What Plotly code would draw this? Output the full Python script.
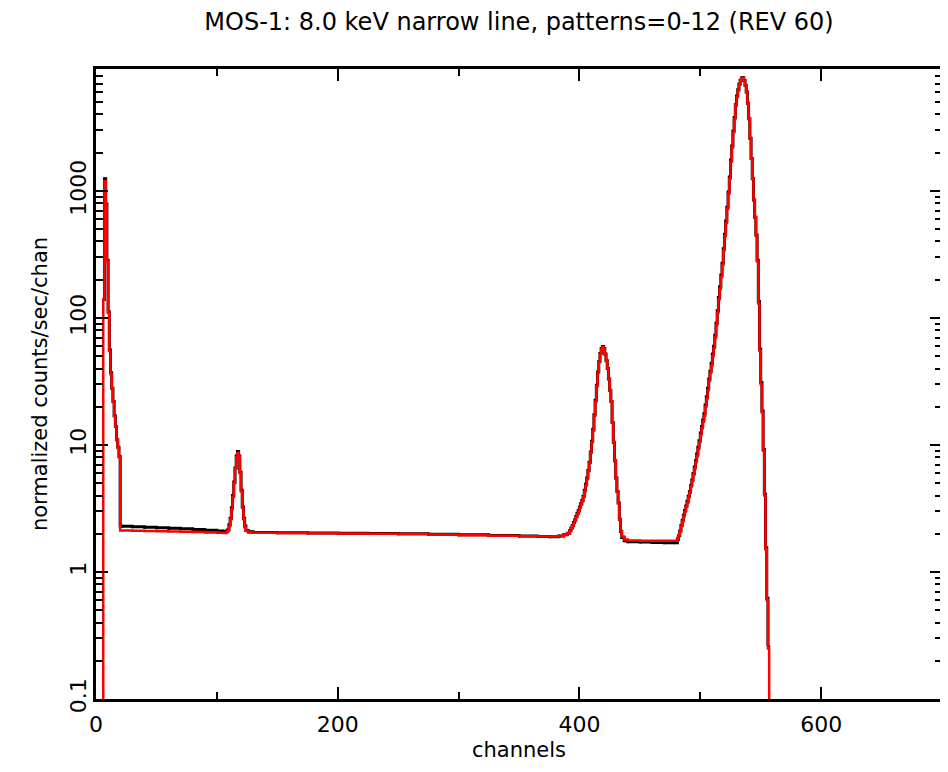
import plotly.graph_objects as go

# ---------------- data ----------------
# channel bins, model (red histogram) and data (black points)
ch_a = [5, 6, 7, 8, 9, 10, 11, 12, 13, 14, 15, 16, 17, 18, 19, 20, 21]
model_a = [1e-3, 140, 1200, 780, 280, 110, 55, 36, 28, 22, 17, 14, 11, 9.5, 8.0, 2.12, 2.12]
data_a = [None, 140, 1250, 790, 285, 112, 56, 37, 28, 22, 17, 14, 11, 9.6, 8.1, 2.3, 2.29]

ch_b = [30, 40, 50, 60, 70, 80, 90, 100, 105]
model_b = [2.11, 2.10, 2.09, 2.08, 2.07, 2.06, 2.05, 2.04, 2.03]
data_b = [2.27, 2.25, 2.23, 2.21, 2.19, 2.16, 2.13, 2.10, 2.08]

ch_c = [108, 109, 110, 111, 112, 113, 114, 115, 116, 117, 118, 119, 120, 121, 122, 123, 124, 126]
model_c = [2.06, 2.12, 2.3, 2.6, 3.1, 3.9, 5.0, 6.5, 8.0, 8.7, 8.1, 6.0, 4.3, 3.2, 2.6, 2.25, 2.1, 2.05]
data_c = [2.1, 2.15, 2.35, 2.65, 3.2, 4.0, 5.1, 6.6, 8.2, 8.9, 8.2, 6.1, 4.4, 3.25, 2.65, 2.3, 2.12, 2.07]

ch_d = [130, 150, 175, 200, 225, 250, 275, 300, 325, 350, 365, 375, 383, 387, 390]
model_d = [2.04, 2.03, 2.02, 2.01, 2.0, 1.99, 1.97, 1.95, 1.93, 1.91, 1.9, 1.9, 1.92, 1.96, 2.02]
data_d = [2.05, 2.04, 2.03, 2.02, 2.01, 2.0, 1.98, 1.96, 1.94, 1.92, 1.9, 1.89, 1.92, 1.96, 2.02]

ch_e = [392, 393, 394, 395, 396, 397, 398, 399, 400, 401, 402, 403, 404, 405, 406, 407, 408, 409,
        410, 411, 412, 413, 414, 415, 416, 417, 418, 419, 420, 421, 422, 423, 424, 425, 426, 427,
        428, 429, 430, 431, 432, 433, 434, 435, 437]
model_e = [2.1, 2.2, 2.3, 2.42, 2.55, 2.7, 2.85, 3.0, 3.2, 3.4, 3.6, 3.9, 4.3, 4.8, 5.4, 6.2, 7.2, 8.7,
           10.5, 13, 17, 22, 29, 37, 45, 52, 57, 59, 57, 52, 46, 40, 33, 27, 22, 15,
           10.5, 7.5, 5.5, 4.3, 3.5, 2.6, 2.1, 1.9, 1.8]
data_e = [2.12, 2.22, 2.32, 2.45, 2.57, 2.73, 2.9, 3.05, 3.25, 3.45, 3.65, 3.95, 4.4, 4.9, 5.5, 6.3, 7.3, 8.8,
          10.7, 13.3, 17.3, 22.5, 29.5, 37.5, 45.5, 52.5, 57.5, 59.5, 57.5, 52, 46, 40, 33, 27, 22, 15,
          10.5, 7.5, 5.5, 4.3, 3.5, 2.6, 2.08, 1.87, 1.76]

ch_f = [440, 450, 460, 470, 478]
model_f = [1.77, 1.76, 1.76, 1.76, 1.76]
data_f = [1.73, 1.72, 1.71, 1.70, 1.70]

ch_g = [481, 482, 483, 484, 485, 486, 487, 488, 489, 490, 491, 492, 493, 494, 495, 496, 497, 498,
        499, 500, 501, 502, 503, 504, 505, 506, 507, 508, 509, 510, 511, 512,
        513, 514, 515, 516, 517, 518, 519, 520, 521, 522, 523, 524, 525, 526, 527, 528, 529,
        530, 531, 532, 533, 534, 535, 536, 537, 538, 539, 540, 541, 542, 543, 544, 545, 546,
        547, 548, 549, 550, 551, 552, 553, 554, 555, 556, 557]
model_g = [1.85, 1.95, 2.1, 2.3, 2.5, 2.75, 3.0, 3.25, 3.5, 3.85, 4.2, 4.7, 5.2, 5.8, 6.5, 7.3, 8.2, 9.3,
           10.5, 12, 13.5, 15.2, 17, 20, 23, 27, 32, 37, 42, 50, 58, 70,
           88, 110, 140, 170, 210, 260, 340, 440, 560, 720, 950, 1250, 1700, 2200, 2900, 3700, 4700,
           5500, 6200, 6900, 7400, 7700, 7750, 7400, 6800, 6000, 4900, 3700, 2600, 1800, 1250, 850, 620, 450,
           280, 130, 55, 30, 18, 9, 4, 1.5, 0.6, 0.25, 1e-3]
data_g = [1.8, 1.93, 2.1, 2.32, 2.55, 2.8, 3.05, 3.3, 3.6, 3.95, 4.3, 4.8, 5.3, 5.95, 6.7, 7.5, 8.5, 9.6,
          10.8, 12.4, 14, 15.7, 17.6, 20.6, 24, 28, 33, 38, 44, 52, 60, 73,
          91, 114, 145, 176, 218, 270, 350, 455, 580, 745, 980, 1290, 1750, 2260, 2970, 3780, 4780,
          5580, 6250, 6950, 7450, 7750, 7780, 7420, 6800, 6000, 4900, 3700, 2600, 1800, 1250, 850, 620, 450,
          285, 135, 57, 31, 18.5, 9.2, 4.1, 1.55, 0.62, 0.26, None]

channels = ch_a + ch_b + ch_c + ch_d + ch_e + ch_f + ch_g
model = model_a + model_b + model_c + model_d + model_e + model_f + model_g
data = data_a + data_b + data_c + data_d + data_e + data_f + data_g

x_ticks = [0, 200, 400, 600]
x_minor = [100, 300, 500]
y_ticks = [0.1, 1, 10, 100, 1000]
y_tick_labels = ["0.1", "1", "10", "100", "1000"]
y_minor = [m * d for d in [0.1, 1, 10, 100, 1000] for m in range(2, 10)]

X_RANGE = [0, 700]
Y_RANGE = [-1, 3.96]
FONT = "DejaVu Sans"

fig = go.Figure()
# data: black points drawn over a black histogram
fig.add_trace(go.Scatter(
    x=channels, y=data, mode="lines", line_shape="hv",
    line=dict(color="black", width=3), connectgaps=False, hoverinfo="skip"))
fig.add_trace(go.Scatter(
    x=[c + 0.5 for c in channels], y=data, mode="markers",
    marker=dict(color="black", size=3), hoverinfo="skip"))
# model: red histogram (on the mirrored axes so it sits on top)
fig.add_trace(go.Scatter(
    x=channels, y=model, mode="lines", line_shape="hv",
    line=dict(color="#ff0000", width=2.5), hoverinfo="skip",
    xaxis="x2", yaxis="y2"))

axis_common = dict(showgrid=False, zeroline=False, showline=True,
                   linecolor="black", linewidth=2.5,
                   ticks="inside", ticklen=12, tickwidth=2, tickcolor="black",
                   automargin=False)

fig.update_layout(
    width=940, height=764,
    margin=dict(l=88, r=6, t=61, b=73),
    plot_bgcolor="white", paper_bgcolor="white",
    showlegend=False,
    font=dict(family=FONT, size=21, color="black"),
    title=dict(text="MOS-1: 8.0 keV narrow line, patterns=0-12 (REV 60)",
               x=0.5, xref="paper", xanchor="center",
               y=1 - 14 / 764, yref="container", yanchor="middle",
               font=dict(family=FONT, size=24, color="black")),
    xaxis=dict(**axis_common, range=X_RANGE,
               tickvals=x_ticks, ticktext=[str(v) for v in x_ticks],
               ticklabelstandoff=4,
               tickfont=dict(family=FONT, size=22),
               minor=dict(ticks="inside", ticklen=7, tickwidth=2, tickcolor="black",
                          tickvals=x_minor, showgrid=False),
               title=dict(text="channels", standoff=7, font=dict(family=FONT, size=21))),
    yaxis=dict(**axis_common, type="log", range=Y_RANGE,
               tickvals=y_ticks, ticktext=y_tick_labels, tickangle=-90,
               ticklabelstandoff=-2,
               tickfont=dict(family=FONT, size=22),
               minor=dict(ticks="inside", ticklen=7, tickwidth=2, tickcolor="black",
                          tickvals=y_minor, showgrid=False),
               title=dict(text="normalized counts/sec/chan", standoff=14,
                          font=dict(family=FONT, size=21))),
    xaxis2=dict(**axis_common, range=X_RANGE, overlaying="x", side="top", anchor="y2",
                tickvals=x_ticks, showticklabels=False,
                minor=dict(ticks="inside", ticklen=7, tickwidth=2, tickcolor="black",
                           tickvals=x_minor, showgrid=False)),
    yaxis2=dict(**axis_common, type="log", range=Y_RANGE, overlaying="y", side="right",
                anchor="x2", tickvals=y_ticks, showticklabels=False,
                minor=dict(ticks="inside", ticklen=7, tickwidth=2, tickcolor="black",
                           tickvals=y_minor, showgrid=False)),
)

fig.write_html("out.html")
